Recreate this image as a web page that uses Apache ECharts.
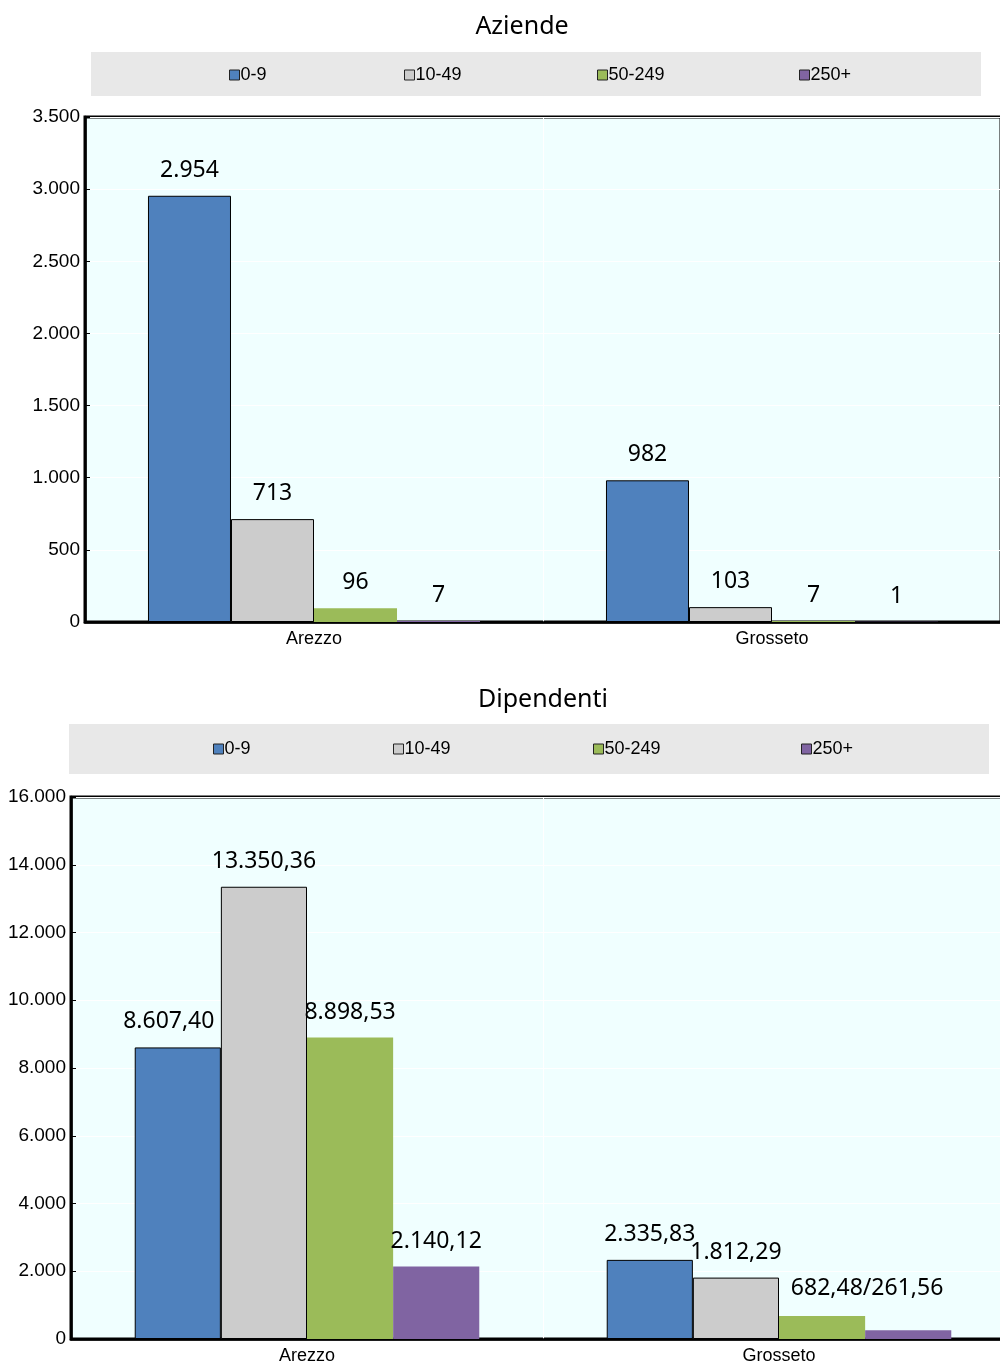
<!DOCTYPE html>
<html lang="it">
<head>
<meta charset="UTF-8">
<title>Aziende e Dipendenti</title>
<script src="https://cdn.jsdelivr.net/npm/echarts@6/dist/echarts.min.js"></script>
<style>
  html, body { margin: 0; padding: 0; background: #fff; }
  #main { width: 1000px; height: 1363px; }
</style>
</head>
<body>
<div id="main"></div>
<script>
// dati
var categories = ['Arezzo', 'Grosseto'];
var classi = ['0-9', '10-49', '50-249', '250+'];
var colori = ['#4f81bd', '#cccccc', '#9bbb59', '#8064a2'];

var aziende09 = [2954, 982];
var aziende1049 = [713, 103];
var aziende50249 = [96, 7];
var aziende250 = [7, 1];

var dip09 = [8607.40, 2335.83];
var dip1049 = [13350.36, 1812.29];
var dip50249 = [8898.53, 682.48];
var dip250 = [2140.12, 261.56];

// formato italiano
function fmt(v, dec) {
    var s = v.toFixed(dec);
    var parts = s.split('.');
    var intPart = parts[0].replace(/\B(?=(\d{3})+(?!\d))/g, '.');
    return parts.length > 1 ? intPart + ',' + parts[1] : intPart;
}

var labelFont = { fontFamily: 'Noto Sans', fontSize: 23, color: '#000' };
var axisFont = { fontFamily: 'Liberation Sans', fontSize: 19, color: '#000' };

function barSeries(name, idx, data, xi, dec) {
    var bordered = idx < 2;
    return {
        name: name,
        type: 'bar',
        xAxisIndex: xi,
        yAxisIndex: xi,
        barGap: '0%',
        barCategoryGap: xi === 0 ? '27.5%' : '27%',
        itemStyle: {
            color: colori[idx],
            borderColor: bordered ? '#000' : colori[idx],
            borderWidth: bordered ? 1 : 0
        },
        label: Object.assign({
            show: true,
            position: 'top',
            distance: 14,
            formatter: function (p) { return fmt(p.value, dec); }
        }, labelFont),
        data: data
    };
}

// etichette spostate come nell'originale
var dipBlue = dip09.map(function (v, i) {
    if (i === 0) return { value: v, label: { offset: [-9, 0] } };
    return v;
});
var dipGreen = dip50249.map(function (v, i) {
    if (i === 1) {
        return {
            value: v,
            label: {
                formatter: fmt(v, 2) + '/' + fmt(dip250[1], 2),
                offset: [45, -2]
            }
        };
    }
    return v;
});
var dipPurple = dip250.map(function (v, i) {
    if (i === 1) return { value: v, label: { show: false } };
    return v;
});

function legends(lefts, top) {
    return classi.map(function (c, i) {
        return {
            data: [c],
            left: lefts[i] - 5,
            top: top,
            itemWidth: 10,
            itemHeight: 10,
            icon: 'rect',
            itemStyle: { borderColor: '#222', borderWidth: 1 },
            textStyle: { fontFamily: 'Liberation Sans', fontSize: 18, color: '#000', padding: [0, 0, 0, -4] },
            selectedMode: false
        };
    });
}

var myChart = echarts.init(document.getElementById('main'));

var option = {
    animation: false,
    title: [
        { text: 'Aziende', left: 517, top: 9, textAlign: 'center',
          textStyle: { fontFamily: 'Noto Sans', fontSize: 25, fontWeight: 'normal', color: '#000' } },
        { text: 'Dipendenti', left: 538, top: 682, textAlign: 'center',
          textStyle: { fontFamily: 'Noto Sans', fontSize: 25, fontWeight: 'normal', color: '#000' } }
    ],
    graphic: [
        { type: 'rect', shape: { x: 91, y: 52, width: 890, height: 44 }, style: { fill: '#e8e8e8' }, z: -1 },
        { type: 'rect', shape: { x: 69, y: 724, width: 920, height: 50 }, style: { fill: '#e8e8e8' }, z: -1 }
    ],
    legend: legends([229, 404, 597, 799], 61).concat(legends([213, 393, 593, 801], 735)),
    grid: [
        { left: 85, top: 117, right: -1, height: 505, show: true, outerBoundsMode: 'none',
          backgroundColor: '#f0ffff', borderColor: '#000', borderWidth: 3 },
        { left: 71, top: 797, right: -15, height: 542, show: true, outerBoundsMode: 'none',
          backgroundColor: '#f0ffff', borderColor: '#000', borderWidth: 3 }
    ],
    xAxis: [0, 1].map(function (i) {
        return {
            type: 'category',
            gridIndex: i,
            data: categories,
            axisLine: { lineStyle: { color: '#000', width: 2.5 } },
            axisTick: { inside: true, length: 6, lineStyle: { color: '#000', width: 2 } },
            axisLabel: Object.assign({ margin: 8 }, axisFont, { fontSize: 18 }),
            splitLine: { show: true, lineStyle: { color: '#ffffff', width: 1 } }
        };
    }),
    yAxis: [
        { type: 'value', gridIndex: 0, min: 0, max: 3500, interval: 500 },
        { type: 'value', gridIndex: 1, min: 0, max: 16000, interval: 2000 }
    ].map(function (a) {
        return Object.assign(a, {
            axisLine: { show: true, lineStyle: { color: '#000', width: 2.5 } },
            axisTick: { show: true, inside: true, length: 5, lineStyle: { color: '#000' } },
            axisLabel: Object.assign({ margin: 5, formatter: function (v) { return fmt(v, 0); } }, axisFont),
            splitLine: { show: true, lineStyle: { color: '#ffffff', width: 1 } }
        });
    }),
    series: [
        barSeries(classi[0], 0, aziende09, 0, 0),
        barSeries(classi[1], 1, aziende1049, 0, 0),
        barSeries(classi[2], 2, aziende50249, 0, 0),
        barSeries(classi[3], 3, aziende250, 0, 0),
        barSeries(classi[0], 0, dipBlue, 1, 2),
        barSeries(classi[1], 1, dip1049, 1, 2),
        barSeries(classi[2], 2, dipGreen, 1, 2),
        barSeries(classi[3], 3, dipPurple, 1, 2)
    ]
};

myChart.setOption(option);
</script>
</body>
</html>
